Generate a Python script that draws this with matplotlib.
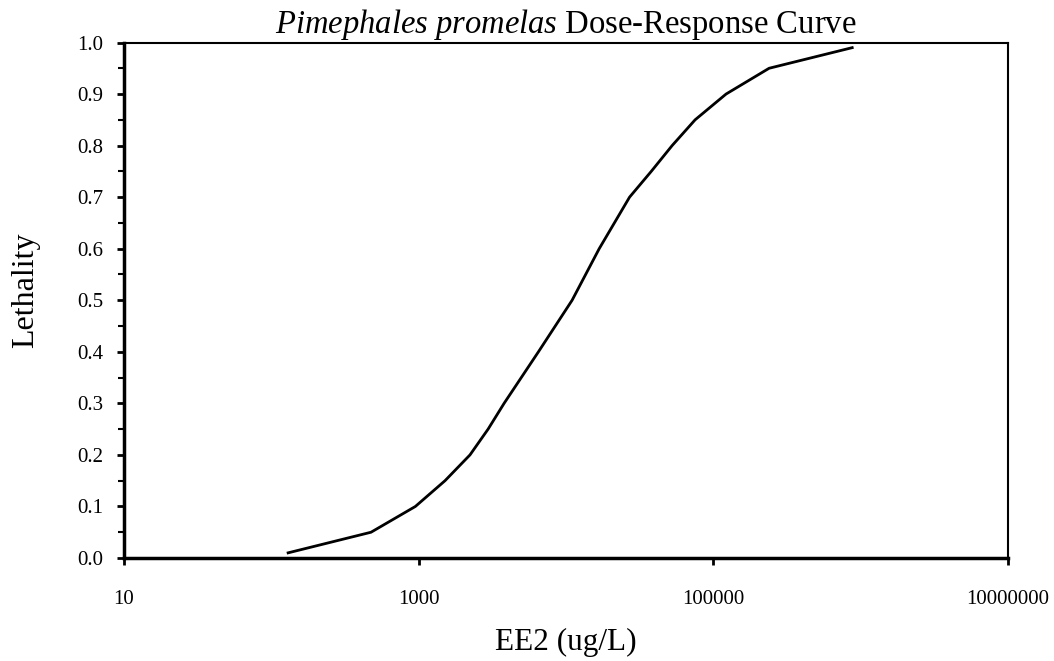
import matplotlib
matplotlib.use("Agg")
import matplotlib.pyplot as plt
from matplotlib.ticker import FixedLocator, MultipleLocator, NullLocator, FixedFormatter

conc = [130, 475, 950, 1510, 2230, 2960, 3800, 6500, 11000, 16800, 27000, 37900, 52500, 75200, 122000, 239000, 876000]
lethality = [0.01, 0.05, 0.10, 0.15, 0.20, 0.25, 0.30, 0.40, 0.50, 0.60, 0.70, 0.75, 0.80, 0.85, 0.90, 0.95, 0.99]
xticks = [10, 1000, 100000, 10000000]
xticklabels = ["10", "1000", "100000", "10000000"]

plt.rcParams['font.family'] = ['Liberation Serif']
plt.rcParams['mathtext.fontset'] = 'custom'
plt.rcParams['mathtext.rm'] = 'Liberation Serif'
plt.rcParams['mathtext.it'] = 'Liberation Serif:italic'

fig = plt.figure(figsize=(10.54, 6.61), dpi=100)
ax = fig.add_axes([124/1054, 1 - 558/661, (1008-124)/1054, (558-42.5)/661])
ax.plot(conc, lethality, color='black', lw=2)
ax.set_xscale('log')
ax.set_xlim(10, 1e7)
ax.set_ylim(0, 1.0)
ax.xaxis.set_major_locator(FixedLocator(xticks))
ax.xaxis.set_major_formatter(FixedFormatter(xticklabels))
ax.xaxis.set_minor_locator(NullLocator())
ax.yaxis.set_major_locator(MultipleLocator(0.1))
ax.yaxis.set_minor_locator(MultipleLocator(0.05))
ax.yaxis.set_major_formatter(matplotlib.ticker.FormatStrFormatter('%.1f'))
for s in ax.spines.values():
    s.set_linewidth(1.5)
ax.spines['left'].set_linewidth(2.5)
ax.spines['bottom'].set_linewidth(2.5)
ax.tick_params(axis='both', which='major', direction='out', length=5, width=2, labelsize=15, pad=10)
ax.tick_params(axis='y', which='minor', direction='out', length=4, width=1.5)
ax.tick_params(axis='x', which='major', pad=18)
ax.set_title(r'$\mathit{Pimephales\ promelas}$ Dose-Response Curve', fontsize=23.5, pad=1)
ax.set_xlabel('EE2 (ug/L)', fontsize=22.5, labelpad=14)
ax.set_ylabel('Lethality', fontsize=23, labelpad=18)
ax.yaxis.set_label_coords(-0.095, 0.52)
fig.savefig('out.png', dpi=100)
